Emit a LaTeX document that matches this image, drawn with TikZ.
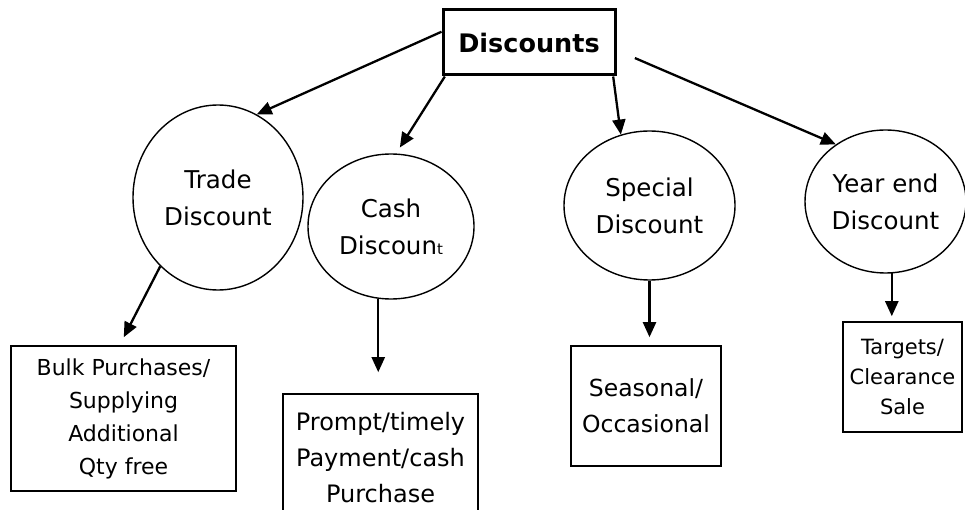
\documentclass[tikz,border=0pt]{standalone}
\usepackage{fontspec}
\setmainfont{DejaVu Sans}
\usetikzlibrary{arrows.meta,calc,shapes.geometric}
\begin{document}
\begin{tikzpicture}[x=1pt,y=-1pt,
  head/.style={draw,line width=3pt,inner sep=0pt,minimum width=172pt,minimum height=65pt,
    font=\fontsize{25.5}{30}\selectfont\bfseries},
  oval/.style={ellipse,draw,line width=1.4pt,inner sep=0pt,align=center,
    font=\fontsize{24.5}{37}\selectfont},
  leaf/.style={rectangle,draw,line width=1.6pt,inner sep=0pt,align=center},
  arr/.style={line width=2.3pt,-{Triangle[length=15pt,width=13pt]}}]
\useasboundingbox (0,0) rectangle (965,510);
\clip (0,0) rectangle (965,510);

% top box
\node[head] (disc) at (529,42.5) {Discounts};

% the four kinds of discount
\node[oval,minimum width=170pt,minimum height=185pt] (trade) at (218,197.5) {Trade\\Discount};
\node[oval,minimum width=166pt,minimum height=145pt] (cash) at (391,226.5)
  {Cash\\Discoun{\fontsize{15}{15}\selectfont t}};
\node[oval,minimum width=171pt,minimum height=149pt] (special) at (649.5,205.5) {Special\\Discount};
\node[oval,minimum width=161pt,minimum height=143pt] (yearend) at (885.5,201.5) {Year end\\Discount};

% what each one is given for
\node[leaf,minimum width=225pt,minimum height=145pt,font=\fontsize{22}{33}\selectfont]
  (bulk) at (123.5,418.5) {Bulk Purchases/\\Supplying\\Additional\\Qty free};
\node[leaf,minimum width=195pt,minimum height=128pt,font=\fontsize{24}{36}\selectfont]
  (prompt) at (380.5,458) {Prompt/timely\\Payment/cash\\Purchase};
\node[leaf,minimum width=150pt,minimum height=120pt,font=\fontsize{23.5}{36}\selectfont]
  (seasonal) at (646,406) {Seasonal/\\Occasional};
\node[leaf,minimum width=119pt,minimum height=110pt,font=\fontsize{21}{30}\selectfont]
  (targets) at (902.5,377) {Targets/\\Clearance\\Sale};

% connectors
\draw[arr] (disc.173.7) -- (trade.65.7);
\draw[arr,shorten >=7pt] (disc.202) -- (cash.86.8);
\draw[arr] (disc.338.4) -- (special.112);
\draw[arr,shorten <=20pt] (disc.355.8) -- (yearend.131.3);

\draw[arr,shorten >=9pt] (trade.230) -- (bulk.93.6);
\draw[arr,shorten >=21pt] (cash.260.5) -- (cash.260.5 |- prompt.north);
\draw[arr,shorten >=8pt] (special.south) -- (special.south |- seasonal.north);
\draw[arr,shorten >=5pt] (yearend.275.2) -- (yearend.275.2 |- targets.north);
\end{tikzpicture}
\end{document}
